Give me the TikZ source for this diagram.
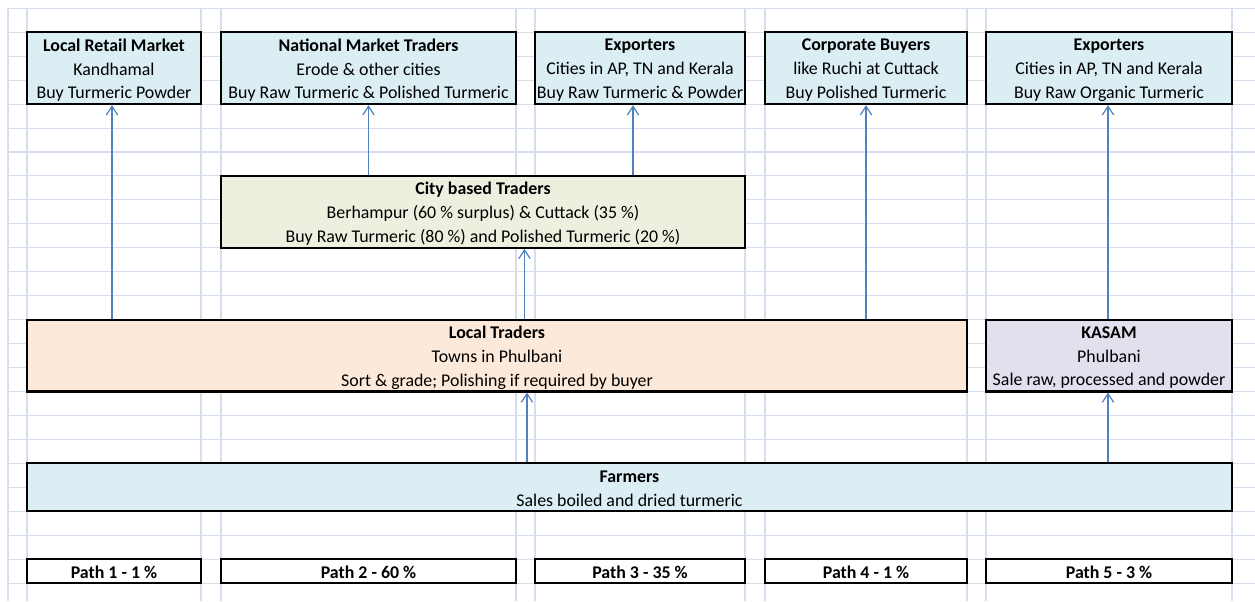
\documentclass[tikz,border=0pt]{standalone}
\usepackage{fontspec}
\setmainfont{Carlito}
\usetikzlibrary{arrows.meta,calc}
\definecolor{gridc}{RGB}{214,221,236}
\definecolor{skyfill}{RGB}{219,238,243}
\definecolor{greenfill}{RGB}{235,241,222}
\definecolor{peachfill}{RGB}{253,233,217}
\definecolor{lavfill}{RGB}{228,223,236}
\definecolor{flowblue}{RGB}{79,129,189}
\begin{document}
\begin{tikzpicture}[x=0.75pt,y=-0.75pt,
  gridline/.style={draw=gridc,line width=0.8pt},
  box/.style={draw=black,line width=1.6pt,inner sep=0pt},
  tall/.style={minimum height=71.85*0.75pt},
  label text/.style={inner sep=0pt,align=center,text=black,
    font=\fontsize{13.4}{17.96}\selectfont},
  flow/.style={draw=flowblue,line width=0.9pt,
    -{Straight Barb[length=6.5pt,width=8.5pt,line width=0.9pt]}},
  pathbox/.style={box,fill=white,minimum height=23.95*0.75pt}]
\useasboundingbox (0,0) rectangle (1255,601);
\fill[white] (0,0) rectangle (1255,601);

% worksheet grid
\foreach \i in {0,...,24}
  \draw[gridline] (8,{8.3+23.95*\i}) -- (1255,{8.3+23.95*\i});
\foreach \x in {8,27,201,221,516,535,745,765,967,986,1232}
  \draw[gridline] (\x,8.3) -- (\x,601);

% buyers
\node[box,tall,fill=skyfill,minimum width=174*0.75pt] (lrm) at (114,68.2) {};
\node[box,tall,fill=skyfill,minimum width=295*0.75pt] (nmt) at (368.5,68.2) {};
\node[box,tall,fill=skyfill,minimum width=210*0.75pt] (exa) at (640,68.2) {};
\node[box,tall,fill=skyfill,minimum width=202*0.75pt] (cob) at (866,68.2) {};
\node[box,tall,fill=skyfill,minimum width=246*0.75pt] (exb) at (1109,68.2) {};

% intermediaries
\node[box,tall,fill=greenfill,minimum width=524*0.75pt] (cbt) at (483,211.9) {};
\node[box,tall,fill=peachfill,minimum width=940*0.75pt] (lt) at (497,355.6) {};
\node[box,tall,fill=lavfill,minimum width=246*0.75pt] (kas) at (1109,355.6) {};

% producers
\node[box,fill=skyfill,minimum width=1205*0.75pt,minimum height=47.9*0.75pt] (frm) at (629.5,487.3) {};

% path shares
\node[pathbox,minimum width=174*0.75pt] (p1) at (114,571.1) {};
\node[pathbox,minimum width=295*0.75pt] (p2) at (368.5,571.1) {};
\node[pathbox,minimum width=210*0.75pt] (p3) at (640,571.1) {};
\node[pathbox,minimum width=202*0.75pt] (p4) at (866,571.1) {};
\node[pathbox,minimum width=246*0.75pt] (p5) at (1109,571.1) {};

% box texts, set slightly below each box centre
\node[label text] (lrm-t) at ($(lrm)+(0,2)$)
  {\textbf{Local Retail Market}\\Kandhamal\\Buy Turmeric Powder};
\node[label text] (nmt-t) at ($(nmt)+(0,2)$)
  {\textbf{National Market Traders}\\Erode \& other cities\\Buy Raw Turmeric \& Polished Turmeric};
\node[label text] (exa-t) at ($(exa)+(0,2)$)
  {\textbf{Exporters}\\Cities in AP, TN and Kerala\\Buy Raw Turmeric \& Powder};
\node[label text] (cob-t) at ($(cob)+(0,2)$)
  {\textbf{Corporate Buyers}\\like Ruchi at Cuttack\\Buy Polished Turmeric};
\node[label text] (exb-t) at ($(exb)+(0,2)$)
  {\textbf{Exporters}\\Cities in AP, TN and Kerala\\Buy Raw Organic Turmeric};
\node[label text] (cbt-t) at ($(cbt)+(0,2)$)
  {\textbf{City based Traders}\\Berhampur (60 \% surplus) \& Cuttack (35 \%)\\Buy Raw Turmeric (80 \%) and Polished Turmeric (20 \%)};
\node[label text] (lt-t) at ($(lt)+(0,2)$)
  {\textbf{Local Traders}\\Towns in Phulbani\\Sort \& grade; Polishing if required by buyer};
\node[label text] (kas-t) at ($(kas)+(0,2)$)
  {\textbf{KASAM}\\Phulbani\\Sale raw, processed and powder};
\node[label text] (frm-t) at ($(frm)+(0,1.5)$)
  {\textbf{Farmers}\\Sales boiled and dried turmeric};
\foreach \p/\t in {p1/Path 1 - 1 \%,p2/Path 2 - 60 \%,p3/Path 3 - 35 \%,p4/Path 4 - 1 \%,p5/Path 5 - 3 \%}
  \node[label text,font=\fontsize{13.4}{17.96}\selectfont\bfseries] (\p-t) at ($(\p)+(0,1)$) {\t};

% flows
\coordinate (lrmin) at ($(lrm.south)+(-2,0)$);
\coordinate (exain) at ($(exa.south)+(-7,0)$);
\coordinate (cbtin) at ($(cbt.south)+(41.5,0)$);
\coordinate (ltin) at ($(lt.south)+(30,0)$);
\coordinate (kasin) at ($(kas.south)+(-1,0)$);
\coordinate (exbin) at ($(exb.south)+(-1,0)$);
\draw[flow] (lrmin |- lt.north) -- (lrmin);
\draw[flow] (nmt.south |- cbt.north) -- (nmt.south);
\draw[flow] (exain |- cbt.north) -- (exain);
\draw[flow] (cbtin |- lt.north) -- (cbtin);
\draw[flow] (cob.south |- lt.north) -- (cob.south);
\draw[flow] (exbin |- kas.north) -- (exbin);
\draw[flow] (ltin |- frm.north) -- (ltin);
\draw[flow] (kasin |- frm.north) -- (kasin);
\end{tikzpicture}
\end{document}
